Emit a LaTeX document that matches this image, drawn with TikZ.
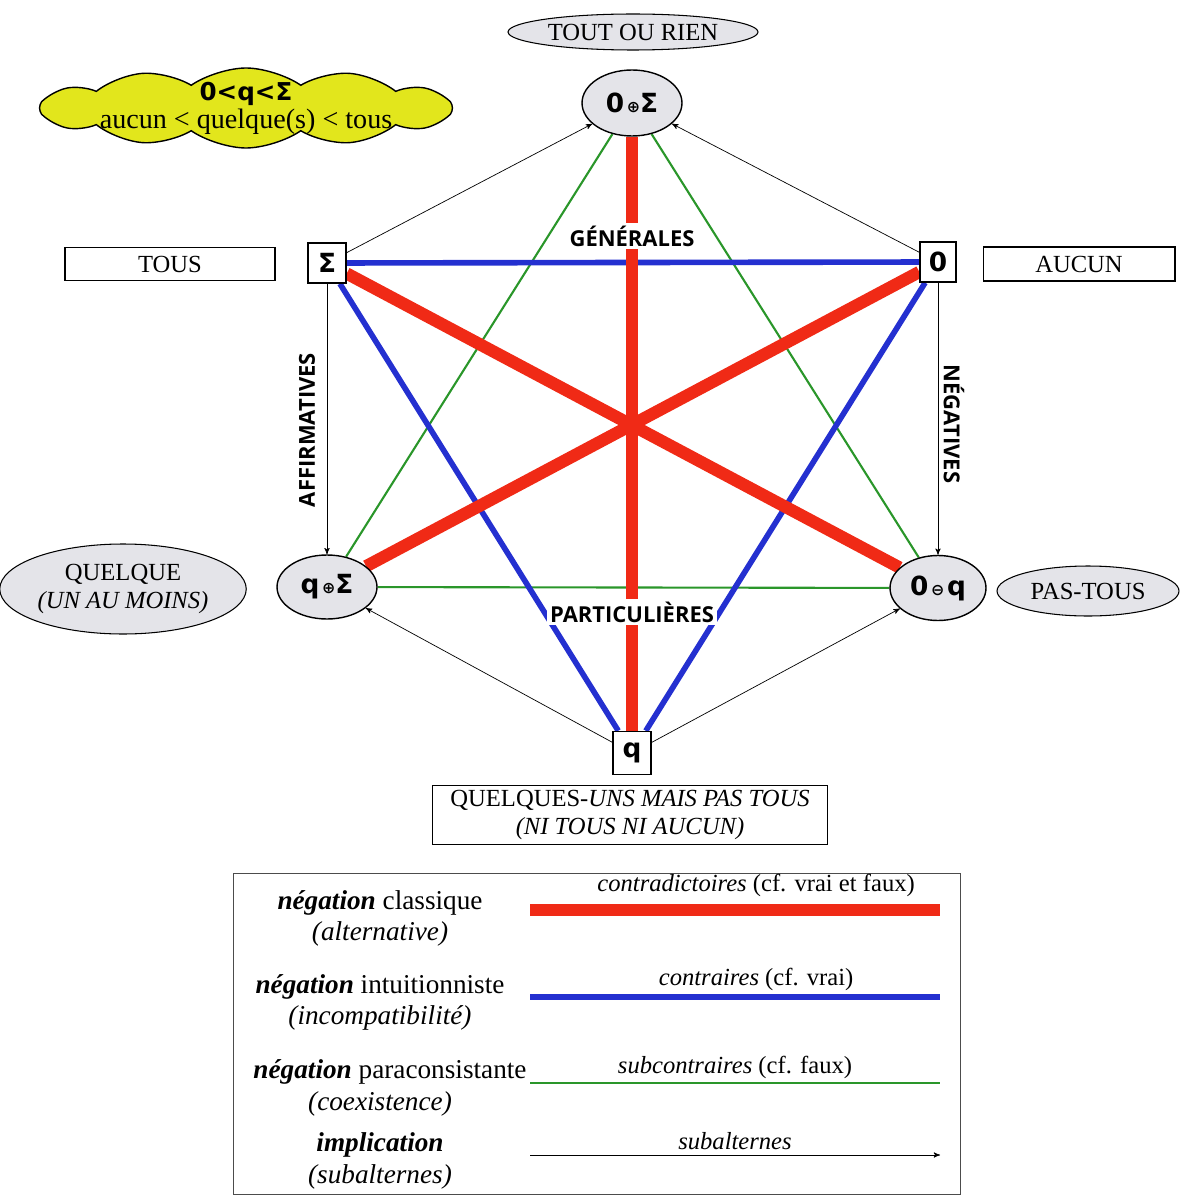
\documentclass[tikz,border=0pt]{standalone}
\usepackage{fontspec}
\setmainfont{Liberation Serif}
\newfontfamily\symfont{DejaVu Sans}
\newfontfamily\capfont{Open Sans}
\usepackage{tikz}
\usetikzlibrary{arrows,positioning,shapes,shapes.symbols,backgrounds}
\usepackage{xcolor}

\definecolor{contrared}{RGB}{240,42,22}
\definecolor{contrablue}{RGB}{36,48,208}
\definecolor{subgreen}{RGB}{42,150,42}
\definecolor{ovalgray}{RGB}{228,228,233}
\definecolor{cloudyellow}{RGB}{226,230,28}

\begin{document}
\begin{tikzpicture}[x=0.02cm,y=-0.02cm,>=stealth',semithick,
                    font=\fontsize{14}{16}\selectfont]
  \tikzstyle{corner}=[rectangle,draw,thick,fill=white,minimum width=0.76cm,minimum height=0.8cm,inner sep=1pt,font=\symfont\bfseries\fontsize{15}{17}\selectfont]
  \tikzstyle{oval}=[ellipse,draw,thick,fill=ovalgray,inner sep=1pt,font=\symfont\bfseries\fontsize{15}{17}\selectfont]
  \tikzstyle{gloss}=[rectangle,draw,semithick,fill=white,align=center]
  \tikzstyle{gloss oval}=[ellipse,draw,semithick,fill=ovalgray,align=center,inner sep=1pt]
  \tikzstyle{contradiction}=[draw=contrared,line width=7pt]
  \tikzstyle{contrary}=[draw=contrablue,line width=3.2pt]
  \tikzstyle{subcontrary}=[draw=subgreen,line width=1.2pt]
  \tikzstyle{subaltern}=[->,draw=black,thin]
  \tikzstyle{quantity}=[fill=white,inner sep=1.5pt,font=\capfont\bfseries\fontsize{12.5}{14}\selectfont]
  \tikzstyle{legend}=[font=\fontsize{15.5}{18}\selectfont]

  \useasboundingbox (0,0) rectangle (1181,1196);

  % vertices of the hexagon
  \node[oval,minimum width=2cm,minimum height=1.32cm]    (OS) at (632,103) {0{\fontsize{9}{9}\selectfont\,⊕}Σ};
  \node[corner]                                          (S)  at (327,263) {Σ};
  \node[corner,minimum width=0.72cm]                     (O)  at (938,262) {0};
  \node[oval,minimum width=2cm,minimum height=1.28cm]    (qS) at (327,587) {q{\fontsize{9}{9}\selectfont\,⊕}Σ};
  \node[oval,minimum width=1.92cm,minimum height=1.3cm]  (Oq) at (938,588) {0{\fontsize{9}{9}\selectfont\,⊖\,}q};
  \node[corner,minimum height=0.86cm]                    (q)  at (632,753) {q};

  % glosses
  \node[gloss oval,minimum width=5cm,minimum height=0.72cm]    (toutrien) at (633,32)  {TOUT OU RIEN};
  \node[gloss,minimum width=4.2cm,minimum height=0.66cm]       (tous)     at (170,264) {TOUS};
  \node[gloss,minimum width=3.84cm,minimum height=0.68cm]      (aucun)    at (1079,264) {AUCUN};
  \node[gloss oval,minimum width=4.46cm,minimum height=1.8cm]  (quelque)  at (123,589) {QUELQUE\\\textit{(UN AU MOINS)}};
  \node[gloss oval,minimum width=3.64cm,minimum height=1cm]    (pastous)  at (1088,591) {PAS-TOUS};
  \node[gloss,minimum width=7.9cm,minimum height=1.18cm,inner sep=1pt] (quelques) at (630,815)
        {QUELQUES-\textit{UNS MAIS PAS TOUS}\\\textit{(NI TOUS NI AUCUN)}};
  \node[cloud,draw,thick,fill=cloudyellow,cloud puffs=12,cloud puff arc=70,aspect=9,
        inner xsep=2pt,inner ysep=-10pt,align=center] (order) at (246,108)
        {{\symfont\bfseries\fontsize{14}{16}\selectfont 0<q<Σ}\\{\fontsize{16}{18}\selectfont aucun < quelque(s) < tous}};

  % oppositions
  \begin{scope}[on background layer]
    \path (OS) edge[subcontrary] (qS)
               edge[subcontrary] (Oq)
          (qS) edge[subcontrary] (Oq)
          (S)  edge[contrary] (O)
               edge[contrary] (q)
          (O)  edge[contrary] (q)
          (OS) edge[contradiction] (q)
          (S)  edge[contradiction] (Oq)
          (O)  edge[contradiction] (qS);
  \end{scope}

  \path[subaltern] (S) edge (OS)
                   (O) edge (OS)
                   (S) edge (qS)
                   (O) edge (Oq)
                   (q) edge (qS)
                   (q) edge (Oq);

  \node[quantity]                 (gen)  at (632,236) {GÉNÉRALES};
  \node[quantity]                 (part) at (632,612) {PARTICULIÈRES};
  \node[quantity,rotate=90]       (aff)  at (307,430) {AFFIRMATIVES};
  \node[quantity,rotate=-90]      (neg)  at (954,424) {NÉGATIVES};

  % legend
  \draw[thin,black!70] (233,873) rectangle (960,1194);

  \node[legend] (classique)   at (380,903)  {\textbf{\textit{négation}} classique};
  \node[legend] (alternative) at (380,934)  {\textit{(alternative)}};
  \node[legend] (intuit)      at (380,987)  {\textbf{\textit{négation}} intuitionniste};
  \node[legend] (incompat)    at (380,1018) {\textit{(incompatibilité)}};
  \node[legend] (paracons)    at (390,1072) {\textbf{\textit{négation}} paraconsistante};
  \node[legend] (coexist)     at (380,1104) {\textit{(coexistence)}};
  \node[legend] (implic)      at (380,1145) {\textbf{\textit{implication}}};
  \node[legend] (subalt)      at (380,1177) {\textit{(subalternes)}};

  \coordinate (red a)   at (530,910);  \coordinate (red b)   at (940,910);
  \coordinate (blue a)  at (530,997);  \coordinate (blue b)  at (940,997);
  \coordinate (green a) at (530,1083); \coordinate (green b) at (940,1083);
  \coordinate (arr a)   at (530,1155); \coordinate (arr b)   at (940,1155);

  \draw[contradiction] (red a) -- node[above=3pt,inner sep=1pt,xshift=12pt] {\textit{contradictoires} (cf. vrai et faux)} (red b);
  \draw[contrary]      (blue a) -- node[above=1pt,inner sep=1pt,xshift=12pt] {\textit{contraires} (cf. vrai)} (blue b);
  \draw[subcontrary]   (green a) -- node[above=1pt,inner sep=1pt] {\textit{subcontraires} (cf. faux)} (green b);
  \draw[subaltern]     (arr a) -- node[above=2pt,inner sep=1pt] {\textit{subalternes}} (arr b);
\end{tikzpicture}
\end{document}
